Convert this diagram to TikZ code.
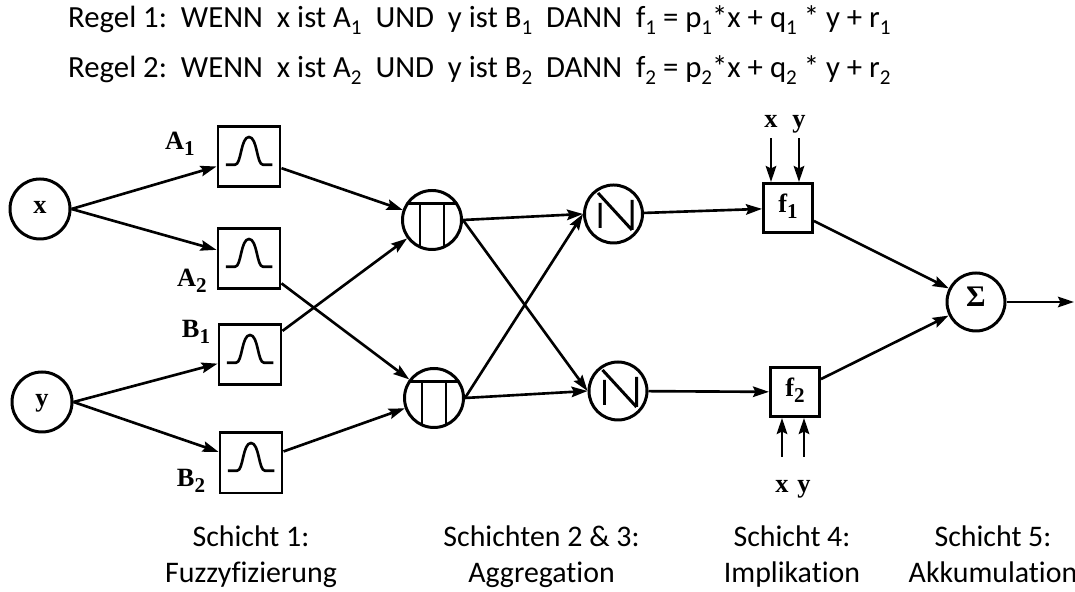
\documentclass[tikz,border=0pt]{standalone}
\usepackage{fontspec}
\setmainfont{Carlito}[Ligatures={NoCommon}]
\newfontfamily\figfont{Liberation Serif}
\usetikzlibrary{arrows.meta}

\newcommand{\sublbl}[2]{#1\raisebox{-0.45ex}{\fontsize{12}{14}\selectfont #2}}
\newcommand{\subrule}[2]{#1\raisebox{-0.45ex}{\fontsize{12}{14}\selectfont #2}}

\tikzset{
  conn/.style={line width=1.5pt, -{Stealth[length=3.2mm, width=2.1mm, inset=0.5mm]}},
  figtext/.style={font=\figfont\bfseries\fontsize{15}{18}\selectfont, text height=1.6ex, text depth=0.5ex},
  inpnode/.style={figtext, circle, draw, line width=1.7pt, minimum size=1.2cm, inner sep=0pt},
  fuzzy/.style={draw, line width=1.7pt, minimum width=1.24cm, minimum height=1.2cm,
    path picture={\draw[line width=1.5pt, shift={(path picture bounding box.center)}]
      (-0.465,-0.155) -- (-0.280,-0.155) .. controls (-0.150,-0.155) and (-0.170,0.400) .. (0.000,0.400)
      .. controls (0.170,0.400) and (0.150,-0.155) .. (0.280,-0.155) -- (0.465,-0.155);}},
  prod/.style={circle, draw, line width=1.7pt, minimum size=1.18cm, inner sep=0pt,
    path picture={\draw[line width=1.7pt, shift={(path picture bounding box.center)}]
      (-0.600,0.330) -- (0.600,0.330) (-0.240,0.330) -- (-0.240,-0.600) (0.240,0.330) -- (0.240,-0.600);}},
  normnode/.style={circle, draw, line width=1.7pt, minimum size=1.16cm, inner sep=0pt,
    path picture={\draw[line width=1.7pt, shift={(path picture bounding box.center)}]
      (-0.270,-0.280) -- (-0.270,0.220) (-0.310,0.420) -- (0.370,-0.320) (0.370,-0.320) -- (0.370,0.280);}},
  impl/.style={figtext, draw, line width=1.7pt, minimum size=0.98cm, inner sep=0pt},
  layer/.style={align=center, font=\fontsize{17}{20}\selectfont},
  rule/.style={anchor=base west, font=\fontsize{17.5}{20}\selectfont}
}

\begin{document}
\begin{tikzpicture}
\useasboundingbox (0.000,0.000) rectangle (21.500,11.840);

\node[rule] (r1) at (1.240,11.280) {Regel 1:\ \ WENN\ \ x ist \subrule{A}{1}\ \ UND\ \ y ist \subrule{B}{1}\ \ DANN\ \ \subrule{f}{1} = \subrule{p}{1}*x + \subrule{q}{1} * y + \subrule{r}{1}};
\node[rule] (r2) at (1.240,10.280) {Regel 2:\ \ WENN\ \ x ist \subrule{A}{2}\ \ UND\ \ y ist \subrule{B}{2}\ \ DANN\ \ \subrule{f}{2} = \subrule{p}{2}*x + \subrule{q}{2} * y + \subrule{r}{2}};

\node[inpnode] (x) at (0.800,7.660) {x};
\node[inpnode] (y) at (0.840,3.800) {y};

\node[fuzzy] (A1) at (4.980,8.700) {};
\node[fuzzy] (A2) at (4.980,6.660) {};
\node[fuzzy] (B1) at (5.000,4.740) {};
\node[fuzzy] (B2) at (5.020,2.580) {};
\node[figtext] (lA1) at (3.600,8.940) {\sublbl{A}{1}};
\node[figtext] (lA2) at (3.840,6.200) {\sublbl{A}{2}};
\node[figtext] (lB1) at (3.920,5.180) {\sublbl{B}{1}};
\node[figtext] (lB2) at (3.820,2.200) {\sublbl{B}{2}};

\node[prod] (P1) at (8.640,7.440) {};
\node[prod] (P2) at (8.680,3.880) {};
\node[normnode] (N1) at (12.270,7.560) {};
\node[normnode] (N2) at (12.360,4.020) {};

\node[impl] (f1) at (15.760,7.680) {\sublbl{f}{1}};
\node[impl] (f2) at (15.900,4.000) {\sublbl{f}{2}};
\node[inpnode, minimum size=1.16cm, font=\figfont\bfseries\fontsize{17}{20}\selectfont] (sum) at (19.520,5.800) {Σ};

\node[figtext] (fx1) at (15.420,9.380) {x};
\node[figtext] (fy1) at (15.980,9.380) {y};
\node[figtext] (fx2) at (15.640,2.080) {x};
\node[figtext] (fy2) at (16.080,2.080) {y};
\coordinate (ax2) at (15.640,2.700);
\coordinate (ay2) at (16.080,2.700);
\coordinate (out) at (21.480,5.800);

\draw[conn] (x.east) -- (A1);
\draw[conn] (x.east) -- (A2);
\draw[conn] (y.east) -- (B1);
\draw[conn] (y.east) -- (B2);
\draw[conn] (A1) -- (P1);
\draw[conn] (A2) -- (P2);
\draw[conn] (B1) -- (P1);
\draw[conn] (B2) -- (P2);
\draw[conn] (P1.east) -- (N1.west);
\draw[conn] (P1.east) -- (N2.west);
\draw[conn] (P2.east) -- (N1.west);
\draw[conn] (P2.east) -- (N2.west);
\draw[conn] (N1) -- (f1);
\draw[conn] (N2) -- (f2);
\draw[conn] (f1) -- (sum);
\draw[conn] (f2) -- (sum);
\draw[conn] (sum) -- (out);
\draw[conn] (fx1.south) -- (fx1.south |- f1.north);
\draw[conn] (fy1.south) -- (fy1.south |- f1.north);
\draw[conn] (ax2) -- (ax2 |- f2.south);
\draw[conn] (ay2) -- (ay2 |- f2.south);

\node[layer] (s1) at (5.020,0.690) {Schicht 1:\strut\\Fuzzyfizierung\strut};
\node[layer] (s23) at (10.830,0.690) {Schichten 2 \& 3:\strut\\Aggregation\strut};
\node[layer] (s4) at (15.840,0.690) {Schicht 4:\strut\\Implikation\strut};
\node[layer] (s5) at (19.860,0.690) {Schicht 5:\strut\\Akkumulation\strut};
\end{tikzpicture}
\end{document}
